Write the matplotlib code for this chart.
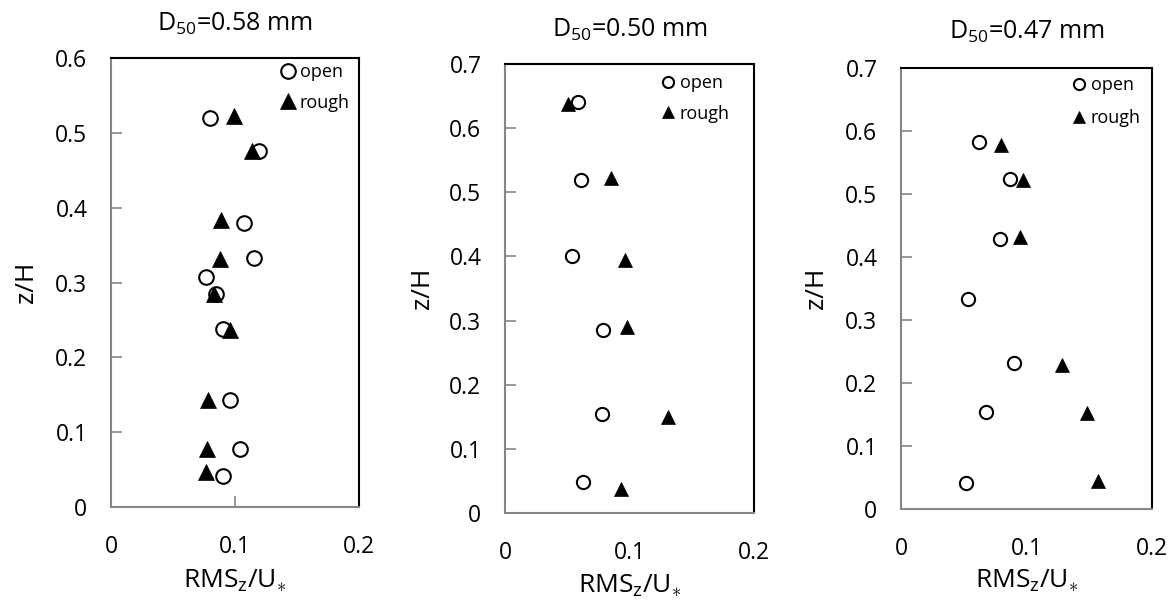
import matplotlib
matplotlib.use("Agg")
import matplotlib.pyplot as plt

plt.rcParams['font.family'] = ['Open Sans', 'DejaVu Sans']
plt.rcParams['mathtext.fontset'] = 'custom'
plt.rcParams['mathtext.rm'] = 'Open Sans'
plt.rcParams['mathtext.it'] = 'Open Sans'
plt.rcParams['mathtext.default'] = 'rm'

# ---- data ----
titles = ["D$_{50}$=0.58 mm", "D$_{50}$=0.50 mm", "D$_{50}$=0.47 mm"]

# Panel 1 (D50 = 0.58 mm)
open1_x = [0.080, 0.119, 0.107, 0.115, 0.077, 0.085, 0.090, 0.096, 0.104, 0.090]
open1_z = [0.520, 0.476, 0.380, 0.333, 0.308, 0.285, 0.238, 0.143, 0.077, 0.041]
rough1_x = [0.099, 0.114, 0.089, 0.0875, 0.083, 0.096, 0.078, 0.0775, 0.077]
rough1_z = [0.523, 0.476, 0.384, 0.332, 0.285, 0.237, 0.143, 0.077, 0.047]

# Panel 2 (D50 = 0.50 mm)
open2_x = [0.059, 0.0614, 0.054, 0.079, 0.078, 0.0627]
open2_z = [0.640, 0.519, 0.400, 0.285, 0.154, 0.048]
rough2_x = [0.051, 0.085, 0.096, 0.098, 0.131, 0.093]
rough2_z = [0.638, 0.522, 0.395, 0.290, 0.150, 0.038]

# Panel 3 (D50 = 0.47 mm)
open3_x = [0.062, 0.087, 0.079, 0.053, 0.090, 0.068, 0.052]
open3_z = [0.583, 0.524, 0.429, 0.333, 0.231, 0.154, 0.042]
rough3_x = [0.080, 0.097, 0.095, 0.128, 0.148, 0.157]
rough3_z = [0.578, 0.522, 0.432, 0.228, 0.153, 0.045]

y_max = [0.6, 0.7, 0.7]
x_ticks = [0, 0.1, 0.2]
x_ticklabels = ["0", "0.1", "0.2"]

panels = [
    (open1_x, open1_z, rough1_x, rough1_z),
    (open2_x, open2_z, rough2_x, rough2_z),
    (open3_x, open3_z, rough3_x, rough3_z),
]

# ---- layout ----
W, H = 1174, 612
fig = plt.figure(figsize=(W / 100, H / 100), dpi=100)
boxes = [  # left, top, right, bottom in pixels
    (111, 58, 359, 507),
    (505, 64, 754, 513),
    (901, 68, 1152, 509),
]
msizes = [10.5, 9.5, 9.5]
leg_ms = [10.5, 8.0, 8.0]
leg_anchor = [(281, 63), (661, 74), (1072, 76)]
leg_spacing = [0.7, 0.7, 0.85]
title_y = [24, 30, 32]
ylabel_x = [27, 423, 817]
xlabel_y = [581, 586, 581]

grey = '#868686'
for i, (ox, oz, rx, rz) in enumerate(panels):
    l, t, r, b = boxes[i]
    ax = fig.add_axes([l / W, 1 - b / H, (r - l) / W, (b - t) / H])
    ax.plot(ox, oz, linestyle='none', marker='o', markersize=msizes[i],
            markerfacecolor='white', markeredgecolor='black', markeredgewidth=1.5,
            label='open', zorder=3)
    ax.plot(rx, rz, linestyle='none', marker='^', markersize=msizes[i] + 0.5,
            markerfacecolor='black', markeredgecolor='black', markeredgewidth=0.5,
            label='rough', zorder=3)
    ax.set_xlim(0, 0.2)
    ax.set_ylim(0, y_max[i])
    ax.set_xticks(x_ticks)
    ax.set_xticklabels(x_ticklabels)
    yt = [round(k * 0.1, 1) for k in range(int(round(y_max[i] * 10)) + 1)]
    ax.set_yticks(yt)
    ax.set_yticklabels(["0" if v == 0 else f"{v:g}" for v in yt])
    ax.tick_params(axis='both', direction='in', colors=grey, labelcolor='black',
                   labelsize=16.5, width=1.2)
    ax.tick_params(axis='y', length=8, pad=17)
    if i == 0:
        ax.tick_params(axis='x', length=8, pad=20)
    else:
        ax.tick_params(axis='x', length=0, pad=20)
    for s in ['left', 'bottom']:
        ax.spines[s].set_color(grey)
        ax.spines[s].set_linewidth(1.5)
    for s in ['top', 'right']:
        ax.spines[s].set_color('black')
        ax.spines[s].set_linewidth(1.5)
    ax_px, ay_px = leg_anchor[i]
    ax.legend(loc='upper left', bbox_to_anchor=(ax_px / W, 1 - ay_px / H),
              bbox_transform=fig.transFigure, frameon=False, fontsize=13,
              handlelength=0.8, handletextpad=0.25, labelspacing=leg_spacing[i],
              borderpad=0, borderaxespad=0, markerscale=leg_ms[i] / msizes[i])
    fig.text((l + r) / 2 / W, 1 - title_y[i] / H, titles[i], ha='center', va='center',
             fontsize=18)
    fig.text(ylabel_x[i] / W, 1 - (t + b) / 2 / H, "z/H", ha='center', va='center',
             rotation=90, fontsize=19)
    fig.text((l + r) / 2 / W, 1 - xlabel_y[i] / H, r"RMS$_z$/U$_{\ast}$", ha='center',
             va='center', fontsize=19)

fig.savefig("out.png", dpi=100)
